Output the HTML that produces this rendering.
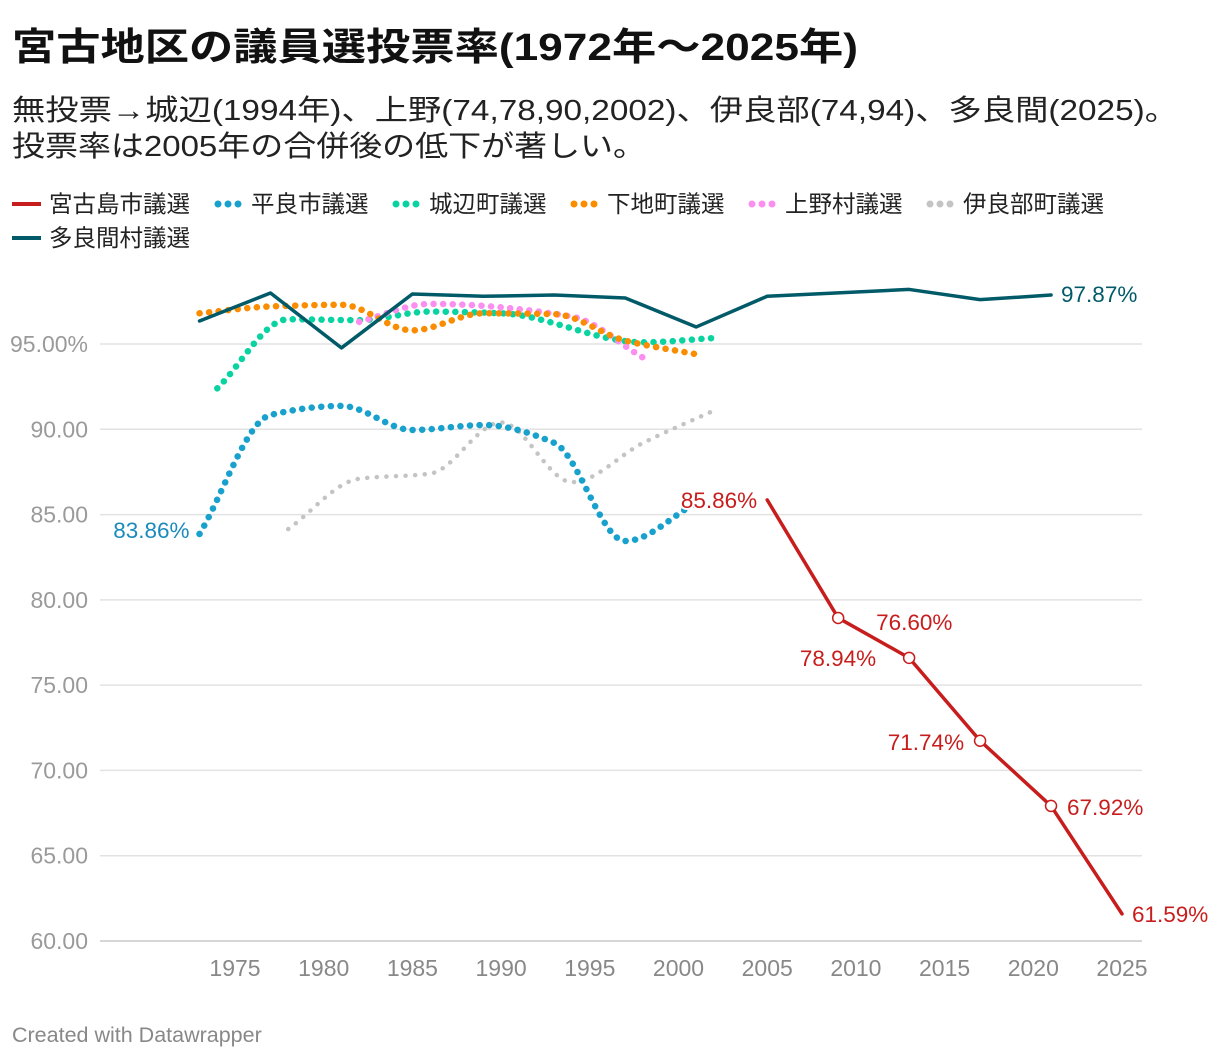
<!DOCTYPE html>
<html><head><meta charset="utf-8">
<style>
body{margin:0;background:#fff;}
svg{display:block;font-family:"Liberation Sans","Noto Sans CJK JP",sans-serif;}
</style></head>
<body>
<svg id="chart" width="1220" height="1058" viewBox="0 0 1220 1058">
<text x="12" y="60" font-size="38" font-weight="bold" fill="#111" textLength="846" lengthAdjust="spacingAndGlyphs">宮古地区の議員選投票率(1972年〜2025年)</text>
<text x="12" y="120" font-size="29" fill="#222" textLength="1166" lengthAdjust="spacingAndGlyphs">無投票→城辺(1994年)、上野(74,78,90,2002)、伊良部(74,94)、多良間(2025)。</text>
<text x="12" y="156" font-size="29" fill="#222" textLength="634" lengthAdjust="spacingAndGlyphs">投票率は2005年の合併後の低下が著しい。</text>
<g id="legend"></g>
<g id="grid"></g>
<g id="xaxis"></g>
<g id="series"></g>
<g id="labels"></g>
<text x="12" y="1042" font-size="21.5" fill="#888">Created with Datawrapper</text>
</svg>
<script>
const yTicks = [60, 65, 70, 75, 80, 85, 90, 95];
const xTicks = [1975, 1980, 1985, 1990, 1995, 2000, 2005, 2010, 2015, 2020, 2025];

const miyakoYears = [2005, 2009, 2013, 2017, 2021, 2025];
const miyakoVals = [85.86, 78.94, 76.60, 71.74, 67.92, 61.59];
const hiraraYears = [1973, 1977, 1981, 1985, 1989, 1993, 1997, 2001];
const hiraraVals = [83.86, 90.84, 91.37, 89.96, 90.25, 89.2, 83.45, 85.7];
const gusukubeYears = [1974, 1978, 1982, 1986, 1990, 1998, 2002];
const gusukubeVals = [92.4, 96.45, 96.4, 96.9, 96.8, 95.1, 95.35];
const shimojiYears = [1973, 1977, 1981, 1985, 1989, 1993, 1997, 2001];
const shimojiVals = [96.8, 97.2, 97.3, 95.8, 96.8, 96.75, 95.2, 94.4];
const uenoYears = [1982, 1986, 1994, 1998];
const uenoVals = [96.3, 97.35, 96.6, 94.2];
const irabuYears = [1978, 1982, 1986, 1990, 1994, 1998, 2002];
const irabuVals = [84.15, 87.1, 87.4, 90.4, 86.9, 89.2, 91.1];
const taramaYears = [1973, 1977, 1981, 1985, 1989, 1993, 1997, 2001, 2005, 2009, 2013, 2017, 2021];
const taramaVals = [96.35, 97.99, 94.77, 97.93, 97.8, 97.87, 97.7, 96.0, 97.8, 98.0, 98.2, 97.6, 97.87];

const NS = "http://www.w3.org/2000/svg";
const X = yr => 235 + (yr - 1975) * 17.74;
const Y = v => 941 - (v - 60) * 17.057;
function mk(tag, attrs, parent){const e=document.createElementNS(NS,tag);for(const k in attrs)e.setAttribute(k,attrs[k]);parent.appendChild(e);return e;}

const grid=document.getElementById('grid');
yTicks.forEach((t,i)=>{
  const l=mk('line',{x1:100,x2:1142,y1:Y(t),y2:Y(t),stroke:t===60?'#c8c8c8':'#e2e2e2','stroke-width':1.5},grid);
  
  
  const last=i===yTicks.length-1;
  const tx=mk('text',{x:88,y:Y(t)+8,'font-size':23,fill:'#9a9a9a','text-anchor':'end'},grid);
  tx.textContent=t.toFixed(2)+(last?'%':'');
  
  
});
const xa=document.getElementById('xaxis');
xTicks.forEach(t=>{
  const tx=mk('text',{x:X(t),y:976,'font-size':23,fill:'#888','text-anchor':'middle'},xa);
  tx.textContent=t;
  
  
});

function monotone(xs,ys){
  const n=xs.length; if(n<3){return 'M'+xs.map((x,i)=>x+','+ys[i]).join('L');}
  const d=[],m=new Array(n);
  for(let i=0;i<n-1;i++)d.push((ys[i+1]-ys[i])/(xs[i+1]-xs[i]));
  m[0]=d[0];m[n-1]=d[n-2];
  for(let i=1;i<n-1;i++){ if(d[i-1]*d[i]<=0)m[i]=0; else {const h0=xs[i]-xs[i-1],h1=xs[i+1]-xs[i];m[i]=3*(h0+h1)/((2*h1+h0)/d[i-1]+(h1+2*h0)/d[i]);} }
  let p='M'+xs[0]+','+ys[0];
  for(let i=0;i<n-1;i++){const h=(xs[i+1]-xs[i])/3;p+=`C${xs[i]+h},${ys[i]+m[i]*h} ${xs[i+1]-h},${ys[i+1]-m[i+1]*h} ${xs[i+1]},${ys[i+1]}`;}
  return p;
}
const ser=document.getElementById('series');
function draw(name,yrs,vals,color,dotted,curve,w){
  const xs=yrs.map(X),ys=vals.map(Y);
  const d=curve?monotone(xs,ys):'M'+xs.map((x,i)=>x+','+ys[i]).join('L');
  const a={d:d,fill:'none',stroke:color,'stroke-width':w,'stroke-linecap':'round','stroke-linejoin':'round'};
  if(dotted)a['stroke-dasharray']='0.1 9.5';
  const p=mk('path',a,ser);
  
  
}
draw('irabu-line',irabuYears,irabuVals,'#c4c4c4',true,true,4.5);
draw('hirara-line',hiraraYears,hiraraVals,'#18a1cd',true,true,6.5);
draw('gusukube-line',gusukubeYears,gusukubeVals,'#09d3a0',true,true,6.5);
draw('ueno-line',uenoYears,uenoVals,'#fb8ff0',true,true,6.5);
draw('shimoji-line',shimojiYears,shimojiVals,'#fa8c00',true,true,6.5);
draw('tarama-line',taramaYears,taramaVals,'#005a68',false,false,3.5);
draw('miyako-line',miyakoYears,miyakoVals,'#c71e1d',false,false,3.5);
miyakoYears.forEach((yr,i)=>{
  if(i===0||i===miyakoYears.length-1)return;
  const c=mk('circle',{cx:X(yr),cy:Y(miyakoVals[i]),r:5.5,fill:'#fff',stroke:'#c71e1d','stroke-width':1.5},ser);
  
  
});

const lab=document.getElementById('labels');
function label(txt,x,y,anchor,color,name){
  const t=mk('text',{x:x,y:y,'font-size':22.5,fill:color,'text-anchor':anchor,stroke:'#fff','stroke-width':4,'paint-order':'stroke'},lab);
  t.textContent=txt;
  
  
}
const red='#c71e1d';
const mLab=[[ -10,8,'end'],[38,48,'end'],[-33,-28,'start'],[-16,9,'end'],[16,9,'start'],[10,8,'start']];
miyakoYears.forEach((yr,i)=>{
  const o=mLab[i];
  label(miyakoVals[i].toFixed(2)+'%',X(yr)+o[0],Y(miyakoVals[i])+o[1],o[2],red,'miyako-label-'+yr);
});
label(taramaVals[taramaVals.length-1].toFixed(2)+'%',X(taramaYears[taramaYears.length-1])+10,Y(taramaVals[taramaVals.length-1])+7,'start','#005a68','tarama-label-end');
label(hiraraVals[0].toFixed(2)+'%',X(hiraraYears[0])-10,Y(hiraraVals[0])+4,'end','#1a8bbb','hirara-label-start');

const lg=document.getElementById('legend');
const legendItems=[['宮古島市議選','#c71e1d',false,12,204],['平良市議選','#18a1cd',true,214,204],['城辺町議選','#09d3a0',true,392,204],['下地町議選','#fa8c00',true,570,204],['上野村議選','#fb8ff0',true,748,204],['伊良部町議選','#c4c4c4',true,926,204],['多良間村議選','#005a68',false,12,238]];
legendItems.forEach((it,i)=>{
  const g=mk('g',{},lg);
  
  
  if(it[2]){[0,1,2].forEach(k=>mk('circle',{cx:it[3]+4+k*10,cy:it[4],r:3.5,fill:it[1]},g));}
  else mk('line',{x1:it[3],x2:it[3]+29,y1:it[4],y2:it[4],stroke:it[1],'stroke-width':4},g);
  const t=mk('text',{x:it[3]+37,y:it[4]+8,'font-size':23.5,fill:'#222'},g);
  t.textContent=it[0];
});
</script>
</body></html>
